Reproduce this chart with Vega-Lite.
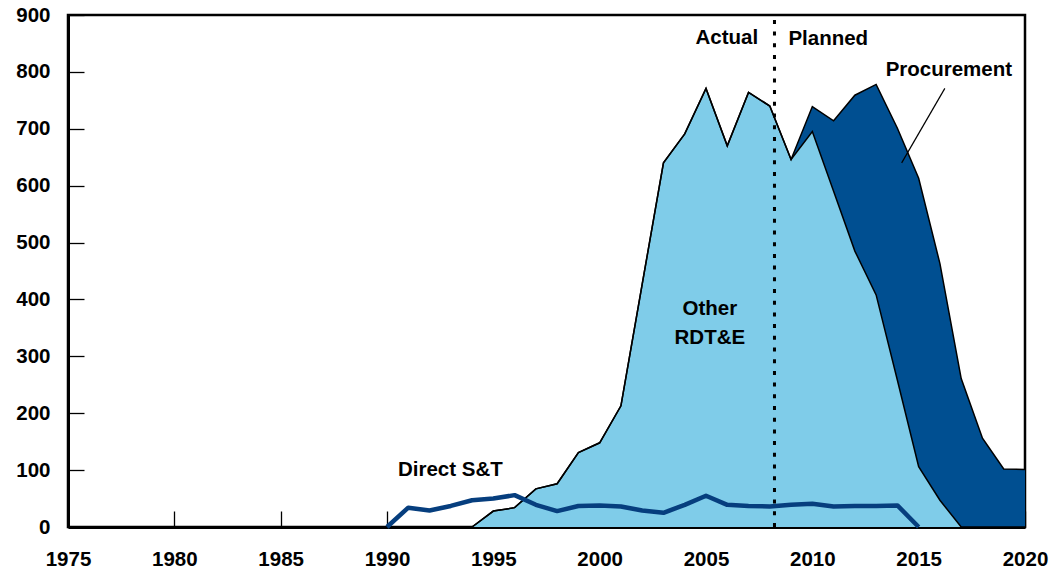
{
  "$schema": "https://vega.github.io/schema/vega-lite/v6.json",
  "autosize": "none",
  "width": 957,
  "height": 512,
  "padding": {"left": 68, "top": 15, "right": 27, "bottom": 46},
  "background": "white",
  "config": {
    "view": {"stroke": "black", "strokeWidth": 2.5},
    "font": "Liberation Sans",
    "axis": {
      "grid": false,
      "domainColor": "black",
      "domainWidth": 3,
      "tickColor": "black",
      "tickWidth": 1.3,
      "tickSize": -16,
      "labelFont": "Liberation Sans",
      "labelFontWeight": "bold",
      "labelFontSize": 20.5,
      "labelColor": "black",
      "title": null
    }
  },
  "datasets": {
    "stack": [
      {"year": 1994, "series": "Other RDT&E", "value": 0},
      {"year": 1995, "series": "Other RDT&E", "value": 28},
      {"year": 1996, "series": "Other RDT&E", "value": 34},
      {"year": 1997, "series": "Other RDT&E", "value": 67},
      {"year": 1998, "series": "Other RDT&E", "value": 76},
      {"year": 1999, "series": "Other RDT&E", "value": 131},
      {"year": 2000, "series": "Other RDT&E", "value": 148},
      {"year": 2001, "series": "Other RDT&E", "value": 213},
      {"year": 2002, "series": "Other RDT&E", "value": 427},
      {"year": 2003, "series": "Other RDT&E", "value": 640},
      {"year": 2004, "series": "Other RDT&E", "value": 691},
      {"year": 2005, "series": "Other RDT&E", "value": 771},
      {"year": 2006, "series": "Other RDT&E", "value": 670},
      {"year": 2007, "series": "Other RDT&E", "value": 764},
      {"year": 2008, "series": "Other RDT&E", "value": 740},
      {"year": 2009, "series": "Other RDT&E", "value": 646},
      {"year": 2010, "series": "Other RDT&E", "value": 695},
      {"year": 2011, "series": "Other RDT&E", "value": 590},
      {"year": 2012, "series": "Other RDT&E", "value": 485},
      {"year": 2013, "series": "Other RDT&E", "value": 408},
      {"year": 2014, "series": "Other RDT&E", "value": 258},
      {"year": 2015, "series": "Other RDT&E", "value": 106},
      {"year": 2016, "series": "Other RDT&E", "value": 47},
      {"year": 2017, "series": "Other RDT&E", "value": 0},
      {"year": 2018, "series": "Other RDT&E", "value": 0},
      {"year": 2019, "series": "Other RDT&E", "value": 0},
      {"year": 2020, "series": "Other RDT&E", "value": 0},
      {"year": 1994, "series": "Procurement", "value": 0},
      {"year": 1995, "series": "Procurement", "value": 0},
      {"year": 1996, "series": "Procurement", "value": 0},
      {"year": 1997, "series": "Procurement", "value": 0},
      {"year": 1998, "series": "Procurement", "value": 0},
      {"year": 1999, "series": "Procurement", "value": 0},
      {"year": 2000, "series": "Procurement", "value": 0},
      {"year": 2001, "series": "Procurement", "value": 0},
      {"year": 2002, "series": "Procurement", "value": 0},
      {"year": 2003, "series": "Procurement", "value": 0},
      {"year": 2004, "series": "Procurement", "value": 0},
      {"year": 2005, "series": "Procurement", "value": 0},
      {"year": 2006, "series": "Procurement", "value": 0},
      {"year": 2007, "series": "Procurement", "value": 0},
      {"year": 2008, "series": "Procurement", "value": 0},
      {"year": 2009, "series": "Procurement", "value": 0},
      {"year": 2010, "series": "Procurement", "value": 44},
      {"year": 2011, "series": "Procurement", "value": 124},
      {"year": 2012, "series": "Procurement", "value": 274},
      {"year": 2013, "series": "Procurement", "value": 370},
      {"year": 2014, "series": "Procurement", "value": 443},
      {"year": 2015, "series": "Procurement", "value": 507},
      {"year": 2016, "series": "Procurement", "value": 416},
      {"year": 2017, "series": "Procurement", "value": 261},
      {"year": 2018, "series": "Procurement", "value": 156},
      {"year": 2019, "series": "Procurement", "value": 102},
      {"year": 2020, "series": "Procurement", "value": 101}
    ],
    "st": [
      {"year": 1990, "value": 0},
      {"year": 1991, "value": 34},
      {"year": 1992, "value": 29},
      {"year": 1993, "value": 37},
      {"year": 1994, "value": 47},
      {"year": 1995, "value": 50},
      {"year": 1996, "value": 56},
      {"year": 1997, "value": 39},
      {"year": 1998, "value": 28},
      {"year": 1999, "value": 37},
      {"year": 2000, "value": 38},
      {"year": 2001, "value": 36},
      {"year": 2002, "value": 29},
      {"year": 2003, "value": 25},
      {"year": 2004, "value": 39},
      {"year": 2005, "value": 55},
      {"year": 2006, "value": 39},
      {"year": 2007, "value": 37},
      {"year": 2008, "value": 36},
      {"year": 2009, "value": 39},
      {"year": 2010, "value": 41},
      {"year": 2011, "value": 36},
      {"year": 2012, "value": 37},
      {"year": 2013, "value": 37},
      {"year": 2014, "value": 38},
      {"year": 2015, "value": 0}
    ],
    "notes": [
      {"label": "Direct S&T", "year": 1992.98, "value": 101},
      {"label": "Actual", "year": 2005.98, "value": 860},
      {"label": "Planned", "year": 2010.75, "value": 857},
      {"label": "Procurement", "year": 2016.42, "value": 804}
    ]
  },
  "layer": [
    {
      "data": {"name": "stack"},
      "mark": {"type": "area", "opacity": 1},
      "encoding": {
        "x": {
          "field": "year",
          "type": "quantitative",
          "scale": {"domain": [1975, 2020], "nice": false, "zero": false},
          "axis": {"values": [1975, 1980, 1985, 1990, 1995, 2000, 2005, 2010, 2015, 2020], "format": "d", "labelPadding": 38, "labelFlush": false}
        },
        "y": {
          "field": "value",
          "type": "quantitative",
          "stack": "zero",
          "scale": {"domain": [0, 900], "nice": false},
          "axis": {"values": [0, 100, 200, 300, 400, 500, 600, 700, 800, 900], "labelPadding": 34, "labelFlush": false}
        },
        "color": {
          "field": "series",
          "type": "nominal",
          "scale": {"domain": ["Other RDT&E", "Procurement"], "range": ["#7FCCE9", "#004F91"]},
          "legend": null
        },
        "order": {"field": "series", "sort": "ascending"}
      }
    },
    {
      "data": {"name": "stack"},
      "mark": {"type": "line", "color": "black", "strokeWidth": 1.5},
      "encoding": {
        "x": {"field": "year", "type": "quantitative"},
        "y": {"field": "value", "type": "quantitative", "stack": "zero"},
        "detail": {"field": "series", "type": "nominal"},
        "order": {"field": "series", "sort": "ascending"}
      }
    },
    {
      "data": {"name": "st"},
      "mark": {"type": "line", "color": "#063E7E", "strokeWidth": 4.5, "strokeJoin": "round"},
      "encoding": {
        "x": {"field": "year", "type": "quantitative"},
        "y": {"field": "value", "type": "quantitative"}
      }
    },
    {
      "data": {"values": [{"year": 2008.22, "lo": 0, "hi": 894}]},
      "mark": {"type": "rule", "color": "black", "strokeWidth": 3, "strokeDash": [4, 7.7]},
      "encoding": {
        "x": {"field": "year", "type": "quantitative"},
        "y": {"field": "lo", "type": "quantitative"},
        "y2": {"field": "hi"}
      }
    },
    {
      "data": {"values": [{"x1": 2016.23, "y1": 771, "x2": 2014.2, "y2": 640}]},
      "mark": {"type": "rule", "color": "black", "strokeWidth": 1.2},
      "encoding": {
        "x": {"field": "x1", "type": "quantitative"},
        "y": {"field": "y1", "type": "quantitative"},
        "x2": {"field": "x2"},
        "y2": {"field": "y2"}
      }
    },
    {
      "data": {"name": "notes"},
      "mark": {"type": "text", "font": "Liberation Sans", "fontWeight": "bold", "fontSize": 20.5, "align": "center", "baseline": "middle", "color": "black"},
      "encoding": {
        "x": {"field": "year", "type": "quantitative"},
        "y": {"field": "value", "type": "quantitative"},
        "text": {"field": "label"}
      }
    },
    {
      "data": {"values": [{"year": 2005.18, "value": 384}]},
      "mark": {"type": "text", "text": ["Other", "RDT&E"], "lineHeight": 29, "font": "Liberation Sans", "fontWeight": "bold", "fontSize": 20.5, "align": "center", "baseline": "middle", "color": "black"},
      "encoding": {
        "x": {"field": "year", "type": "quantitative"},
        "y": {"field": "value", "type": "quantitative"}
      }
    }
  ]
}
